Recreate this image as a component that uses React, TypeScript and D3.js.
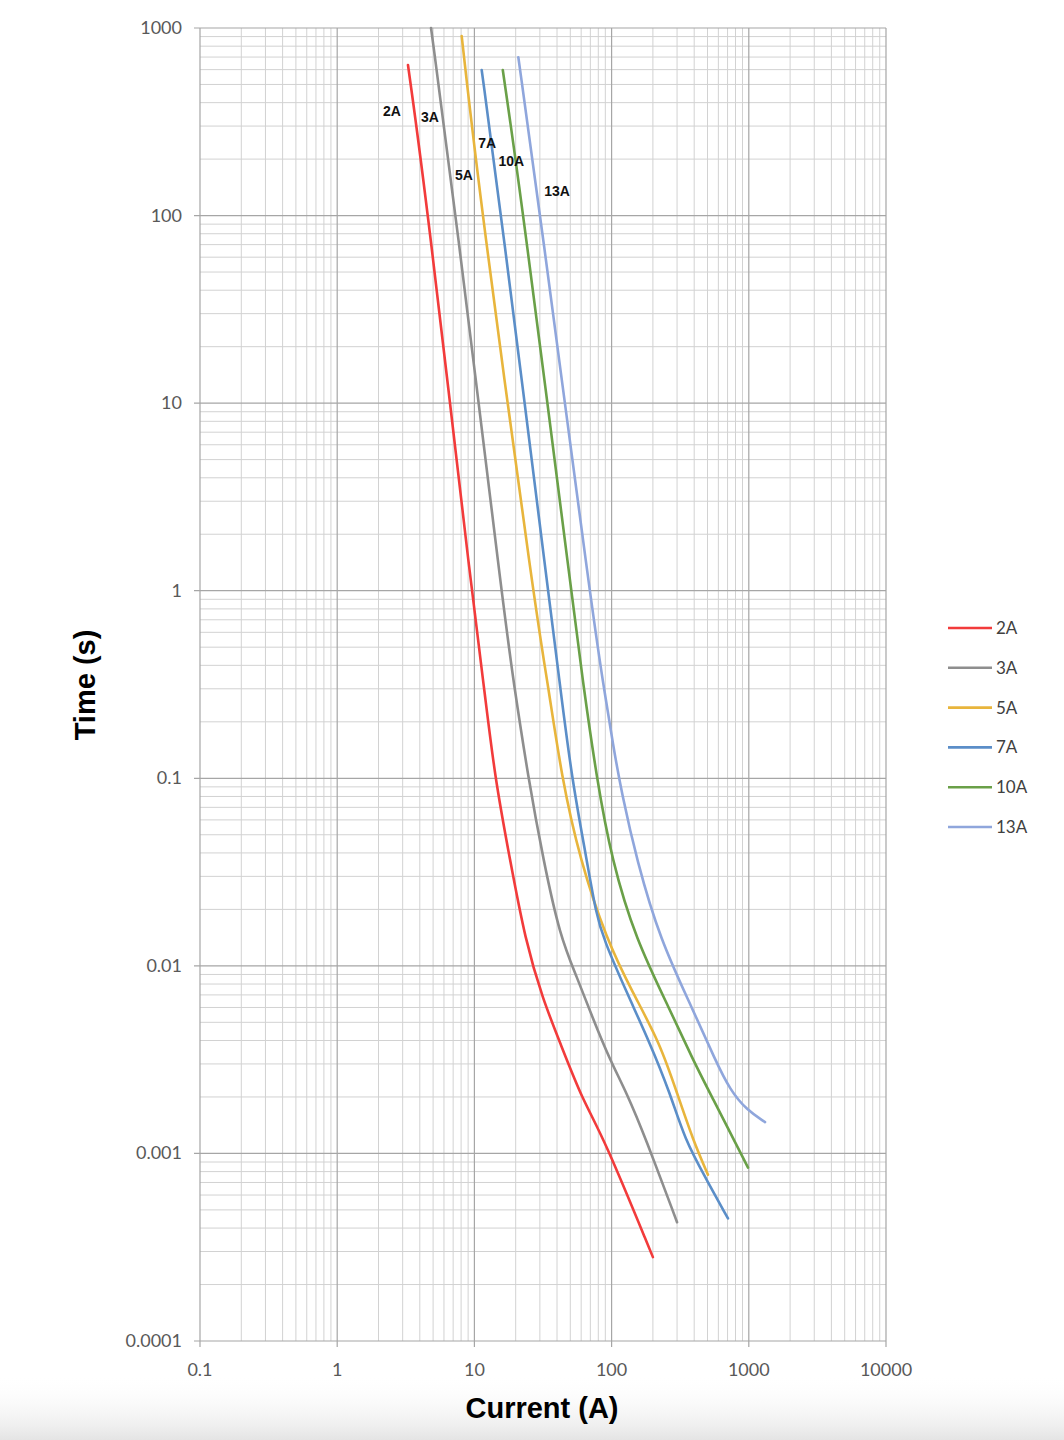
import * as d3 from 'd3'

// fuse ratings, in the legend's order
const FUSE_NAMES = ['2A', '3A', '5A', '7A', '10A', '13A']

// time-current points: current (A) and time (s)
const AMPS_2A = [3.28, 4.49, 10.1, 11.6, 14.1, 18.2, 23.4, 31.6, 42.1, 61.9, 87.0, 200]
const SECS_2A = [635, 121, 0.699, 0.335, 0.1, 0.0367, 0.0138, 0.0066, 0.0039, 0.0019, 0.00123, 0.00028]

const AMPS_3A = [4.83, 7.1, 16.7, 19.2, 24.7, 31.8, 42.1, 55.7, 73.6, 97.3, 128.9, 175.1, 300]
const SECS_3A = [1000, 121, 0.699, 0.335, 0.1, 0.0367, 0.0143, 0.00877, 0.00516, 0.00315, 0.0021, 0.00123, 0.00043]

const AMPS_5A = [8.08, 10.99, 28.5, 34.0, 43.3, 58.9, 91.8, 143.2, 225.3, 299.8, 392, 504]
const SECS_5A = [906, 121, 0.699, 0.335, 0.1, 0.0367, 0.0138, 0.00715, 0.00387, 0.0021, 0.00118, 0.00077]

const AMPS_7A = [11.3, 15.19, 36.6, 41.6, 51.2, 65.9, 76.9, 87.6, 129.5, 190.5, 266.6, 342.8, 479.6, 705]
const SECS_7A = [597, 121, 0.699, 0.335, 0.1, 0.0367, 0.0191, 0.0138, 0.00715, 0.00387, 0.0021, 0.00118, 0.00075, 0.00045]

const AMPS_10A = [16.1, 22.1, 54.1, 61.5, 77.8, 100.2, 150, 266.6, 392, 521, 987]
const SECS_10A = [597, 121, 0.699, 0.335, 0.1, 0.0367, 0.0138, 0.00583, 0.00315, 0.0021, 0.00084]

const AMPS_13A = [20.9, 29.2, 73.6, 86.1, 102.9, 118.5, 152.4, 225.3, 392, 569, 729.5, 970, 1313]
const SECS_13A = [698, 121, 0.699, 0.335, 0.1476, 0.0833, 0.0367, 0.0138, 0.00583, 0.00315, 0.00218, 0.0017, 0.00147]

// where the curve names sit (data coordinates)
const LABEL_AMPS = [2.51, 4.75, 8.4, 12.4, 18.6, 40]
const LABEL_SECS = [359, 337, 164, 244, 195, 136]

const X_TICKS = [0.1, 1, 10, 100, 1000, 10000]
const X_TICK_LABELS = ['0.1', '1', '10', '100', '1000', '10000']
const Y_TICKS = [0.0001, 0.001, 0.01, 0.1, 1, 10, 100, 1000]
const Y_TICK_LABELS = ['0.0001', '0.001', '0.01', '0.1', '1', '10', '100', '1000']

const COLORS = ['#f23b3b', '#8e8e8e', '#e8b53c', '#5b8ec8', '#6aa048', '#8fa6dc']

const W = 1064
const H = 1440
const PLOT = { left: 200, right: 886, top: 28, bottom: 1341 }
const TICK_FONT = 'Lato, "Open Sans", sans-serif'
const TITLE_FONT = '"Liberation Sans", Arial, sans-serif'

export default function App() {
  const x = d3.scaleLog().domain([0.1, 10000]).range([PLOT.left, PLOT.right])
  const y = d3.scaleLog().domain([0.0001, 1000]).range([PLOT.bottom, PLOT.top])

  const series = [
    { amps: AMPS_2A, secs: SECS_2A },
    { amps: AMPS_3A, secs: SECS_3A },
    { amps: AMPS_5A, secs: SECS_5A },
    { amps: AMPS_7A, secs: SECS_7A },
    { amps: AMPS_10A, secs: SECS_10A },
    { amps: AMPS_13A, secs: SECS_13A },
  ]

  // B-spline smooths out the small reading errors in the points
  const line = d3.line<[number, number]>()
    .x(d => x(d[0]))
    .y(d => y(d[1]))
    .curve(d3.curveBasis)

  // 2..9 minor lines inside every decade
  const minorsFor = (majors: number[]) => {
    const out: number[] = []
    majors.slice(0, -1).forEach(m => {
      for (let k = 2; k <= 9; k++) out.push(m * k)
    })
    return out
  }
  const xMinor = minorsFor(X_TICKS)
  const yMinor = minorsFor(Y_TICKS)

  const legendTop = 628
  const legendStep = 39.8

  return (
    <div style={{ position: 'absolute', left: 0, top: 0 }}>
      <svg width={W} height={H} style={{ display: 'block', background: '#fff' }}>
        <defs>
          <linearGradient id="shade" x1="0" y1="0" x2="0" y2="1">
            <stop offset="0" stopColor="#ffffff" stopOpacity={0} />
            <stop offset="1" stopColor="#e4e4e4" stopOpacity={1} />
          </linearGradient>
        </defs>
        <rect x={0} y={1375} width={W} height={H - 1375} fill="url(#shade)" />

        {/* minor grid */}
        <g stroke="#d2d2d2" strokeWidth={1}>
          {xMinor.map(v => (
            <line key={'xm' + v} x1={x(v)} x2={x(v)} y1={PLOT.top} y2={PLOT.bottom} />
          ))}
          {yMinor.map(v => (
            <line key={'ym' + v} x1={PLOT.left} x2={PLOT.right} y1={y(v)} y2={y(v)} />
          ))}
        </g>

        {/* major grid + ticks */}
        <g stroke="#a6a6a6" strokeWidth={1.2}>
          {X_TICKS.map(v => (
            <line key={'xM' + v} x1={x(v)} x2={x(v)} y1={PLOT.top} y2={PLOT.bottom + 6} />
          ))}
          {Y_TICKS.map(v => (
            <line key={'yM' + v} x1={PLOT.left - 6} x2={PLOT.right} y1={y(v)} y2={y(v)} />
          ))}
        </g>

        {/* tick labels */}
        <g fontFamily={TICK_FONT} fontSize={18} fill="#595959">
          {X_TICKS.map((v, i) => (
            <text key={'xl' + v} x={x(v)} y={PLOT.bottom + 35} textAnchor="middle">
              {X_TICK_LABELS[i]}
            </text>
          ))}
          {Y_TICKS.map((v, i) => (
            <text key={'yl' + v} x={PLOT.left - 18} y={y(v) + 6} textAnchor="end">
              {Y_TICK_LABELS[i]}
            </text>
          ))}
        </g>

        {/* curves */}
        <g fill="none" strokeWidth={2.6} strokeLinejoin="round" strokeLinecap="round">
          {series.map((s, i) => (
            <path
              key={FUSE_NAMES[i]}
              d={line(s.amps.map((a, j) => [a, s.secs[j]] as [number, number])) ?? ''}
              stroke={COLORS[i]}
            />
          ))}
        </g>

        {/* curve names */}
        <g fontFamily={TITLE_FONT} fontWeight="bold" fontSize={14} fill="#111">
          {FUSE_NAMES.map((n, i) => (
            <text key={'cl' + n} x={x(LABEL_AMPS[i])} y={y(LABEL_SECS[i]) + 5} textAnchor="middle">
              {n}
            </text>
          ))}
        </g>

        {/* axis titles */}
        <text
          x={542}
          y={1418}
          textAnchor="middle"
          fontFamily={TITLE_FONT}
          fontWeight="bold"
          fontSize={29}
          fill="#000"
        >
          Current (A)
        </text>
        <text
          transform="translate(95,685) rotate(-90)"
          textAnchor="middle"
          fontFamily={TITLE_FONT}
          fontWeight="bold"
          fontSize={29}
          fill="#000"
        >
          Time (s)
        </text>

        {/* legend */}
        <g fontFamily={TICK_FONT} fontSize={17} fill="#404040">
          {FUSE_NAMES.map((n, i) => {
            const ly = legendTop + i * legendStep
            return (
              <g key={'lg' + n}>
                <line x1={948} x2={992} y1={ly} y2={ly} stroke={COLORS[i]} strokeWidth={2.6} />
                <text x={996} y={ly + 6}>{n}</text>
              </g>
            )
          })}
        </g>
      </svg>
    </div>
  )
}
